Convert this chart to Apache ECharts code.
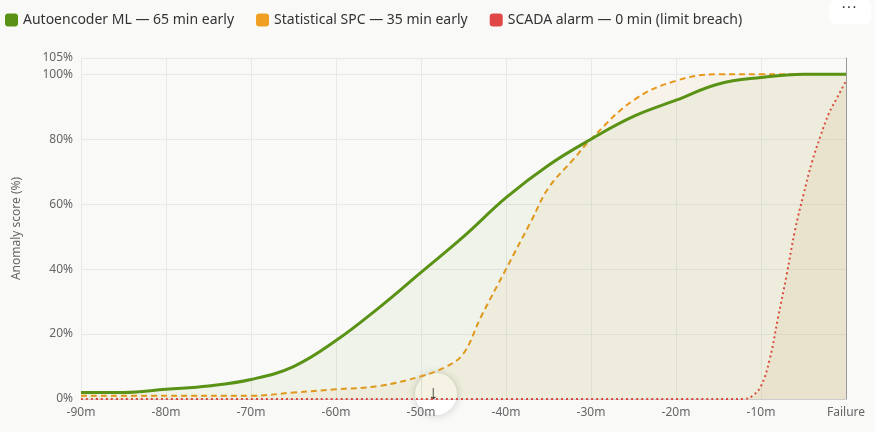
<!DOCTYPE html>
<html><head><meta charset="utf-8">
<script src="https://cdn.jsdelivr.net/npm/echarts@6/dist/echarts.min.js"></script>
<style>html,body{margin:0;background:#f9f9f8}#c{width:875px;height:432px}</style>
</head><body><div id="c"></div>
<script>
const mlTimes = [-90,-85,-80,-75,-70,-65,-60,-55,-50,-45,-40,-35,-30,-25,-20,-15,-10,-5,0];
const mlScores = [2,2,3,4,6,10,18,28,39,50,62,72,80,87,92,97,99,100,100];
const spcTimes = [-90,-80,-70,-65,-60,-55,-50,-47,-45,-43,-40,-37,-35,-32,-30,-25,-20,-15,-10,-5,0];
const spcScores = [1,1,1,2,3,4,7,10,14,25,40,55,65,74,80,92,98,100,100,100,100];
const scadaTimes = [-90,-14,-12,-11,-10,-9,-8,-7,-6,-5,-4,-3,-2,-1,0];
const scadaScores = [0,0,0,1,4,12,25,38,52,63,73,81,88,93,98];
const seriesNames = ['Autoencoder ML — 65 min early','Statistical SPC — 35 min early','SCADA alarm — 0 min (limit breach)'];
const zip = (t, v) => t.map((x, i) => [x, v[i]]);

const chart = echarts.init(document.getElementById('c'));
const font = 'Noto Sans';
chart.setOption({
  backgroundColor: '#f9f9f8',
  textStyle: { fontFamily: font },
  legend: {
    left: 0, top: 8, itemWidth: 13, itemHeight: 13, itemGap: 22,
    icon: 'roundRect',
    textStyle: { color: '#333', fontSize: 14, fontFamily: font },
    data: seriesNames
  },
  grid: { left: 81, right: 29, top: 58, bottom: 33 },
  xAxis: {
    type: 'value', min: -90, max: 0, interval: 10,
    axisLine: { lineStyle: { color: '#ccc' } },
    axisTick: { show: false },
    axisLabel: { color: '#666', fontSize: 12, formatter: v => v === 0 ? 'Failure' : v + 'm' },
    splitLine: { show: true, lineStyle: { color: '#e8e8e8' } }
  },
  yAxis: {
    type: 'value', min: 0, max: 105,
    name: 'Anomaly score (%)', nameLocation: 'middle', nameGap: 58,
    nameTextStyle: { color: '#666', fontSize: 12 },
    axisLine: { show: true, lineStyle: { color: '#999' } },
    axisLabel: { color: '#666', fontSize: 12, formatter: '{value}%',
      customValues: [0, 20, 40, 60, 80, 100, 105] },
    axisTick: { show: false },
    splitLine: { lineStyle: { color: '#e8e8e8' } }
  },
  series: [
    { name: seriesNames[0], type: 'line', smooth: 0.4, showSymbol: false,
      data: zip(mlTimes, mlScores), color: '#5a9216',
      lineStyle: { width: 3, color: '#5a9216' },
      areaStyle: { color: 'rgba(120,170,60,0.10)' }, z: 3 },
    { name: seriesNames[1], type: 'line', smooth: 0.4, showSymbol: false,
      data: zip(spcTimes, spcScores), color: '#f0a020',
      lineStyle: { width: 2, type: [6, 4], color: '#e8971a' },
      areaStyle: { color: 'rgba(240,170,60,0.10)' }, z: 2 },
    { name: seriesNames[2], type: 'line', smooth: 0.4, showSymbol: false,
      data: zip(scadaTimes, scadaScores), color: '#e04848',
      lineStyle: { width: 2, type: [2, 3], color: '#e04040' },
      areaStyle: { color: 'rgba(200,120,60,0.12)' }, z: 1 }
  ],
  graphic: [
    { type: 'rect', right: 4, top: 0, shape: { width: 42, height: 24, r: 6 },
      style: { fill: '#fff' } },
    { type: 'text', right: 18, top: 0, style: { text: '···', fontSize: 16, fill: '#333', font: 'bold 16px sans-serif' } },
    { type: 'circle', left: 415, top: 373, shape: { r: 21 },
      style: { fill: '#fff', shadowBlur: 8, shadowColor: 'rgba(0,0,0,0.2)' } },
    { type: 'text', left: 428, top: 383, style: { text: '↓', fontSize: 20, fill: '#222' } }
  ]
});
</script></body></html>
